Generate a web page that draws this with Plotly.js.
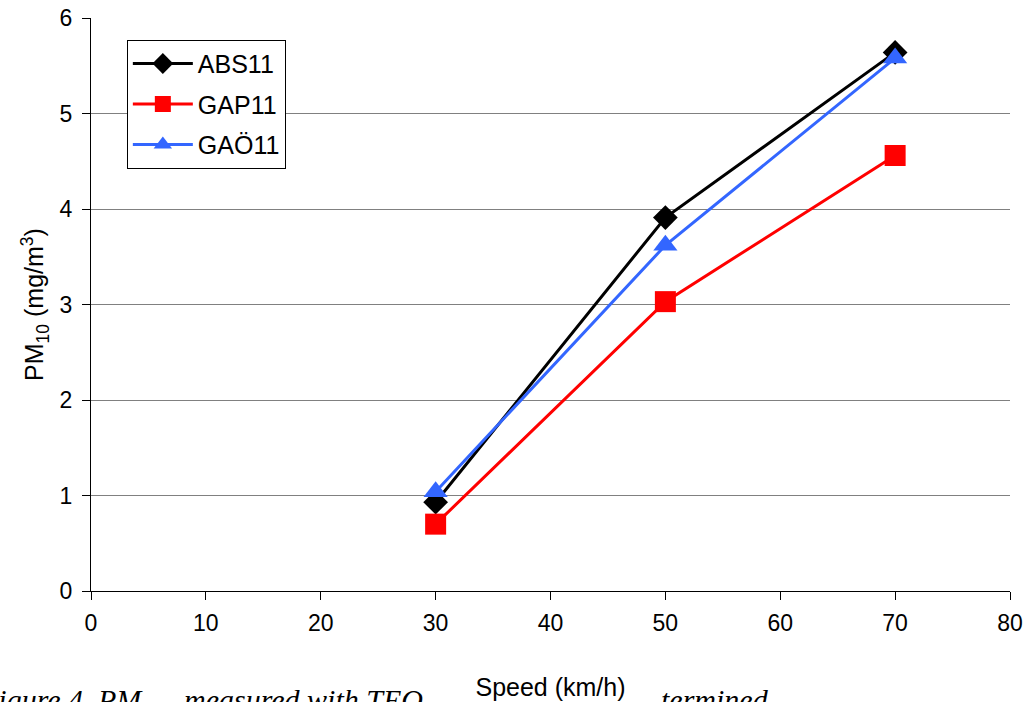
<!DOCTYPE html>
<html>
<head>
<meta charset="utf-8">
<script src="https://cdn.plot.ly/plotly-3.0.1.min.js"></script>
<style>html,body{margin:0;padding:0;background:#fff;}#chart{width:1027px;height:702px;}</style>
</head>
<body>
<div id="chart"></div>
<script>
const speeds = [30, 50, 70];
const abs11 = [0.93, 3.91, 5.64];
const gap11 = [0.70, 3.03, 4.56];
const gao11 = [1.04, 3.62, 5.58];
const seriesNames = ["ABS11", "GAP11", "GAÖ11"];
const xTicks = [0, 10, 20, 30, 40, 50, 60, 70, 80];
const yTicks = [0, 1, 2, 3, 4, 5, 6];

const traces = [
  {x: speeds, y: abs11, name: seriesNames[0], legendgroup: "a", mode: "lines+markers",
   line: {color: "#000000", width: 3}, marker: {symbol: "diamond", size: 19, color: "#000000"}},
  {x: speeds, y: gap11, name: seriesNames[1], legendgroup: "b", mode: "lines+markers",
   line: {color: "#ff0000", width: 3}, marker: {symbol: "square", size: 21, color: "#ff0000"}},
  {x: speeds, y: gao11, name: seriesNames[2], legendgroup: "c", mode: "lines+markers",
   line: {color: "#3366ff", width: 3}, marker: {symbol: "triangle-up", size: 21, color: "#3366ff"}}
];

const SANS = "Liberation Sans, Arial, sans-serif";
const tickFont = {family: SANS, size: 23, color: "#000"};
const titleFont = {family: SANS, size: 25, color: "#000"};
const serif = {family: "Liberation Serif, Times New Roman, serif", size: 30, color: "#000"};

const layout = {
  width: 1027, height: 702,
  margin: {l: 91, r: 17, t: 18, b: 111},
  paper_bgcolor: "#fff", plot_bgcolor: "#fff",
  font: tickFont,
  showlegend: true,
  legend: {x: 0.039, y: 0.962, xanchor: "left", yanchor: "top",
           bgcolor: "#fff", bordercolor: "#000", borderwidth: 1,
           font: {family: SANS, size: 25, color: "#000"},
           traceorder: "grouped", tracegroupgap: 5, itemwidth: 60},
  xaxis: {range: [0, 80], tickvals: xTicks, ticktext: xTicks.map(String),
          showgrid: false, zeroline: false, showline: true, linecolor: "#000", linewidth: 1,
          ticks: "outside", ticklen: 8, tickcolor: "#000", tickfont: tickFont,
          ticklabelstandoff: 3,
          title: {text: "Speed (km/h)", font: titleFont, standoff: 43}},
  yaxis: {range: [0, 6], tickvals: yTicks, ticktext: yTicks.map(String),
          showgrid: true, gridcolor: "#808080", gridwidth: 1, zeroline: false,
          showline: true, linecolor: "#000", linewidth: 1,
          ticks: "outside", ticklen: 8, tickcolor: "#000", tickfont: tickFont,
          ticklabelstandoff: 5,
          title: {text: "PM<sub>10</sub> (mg/m<sup>3</sup>)", font: titleFont, standoff: 8}},
  annotations: [
    {xref: "paper", yref: "paper", x: -0.124, y: -0.157, xanchor: "left", yanchor: "top",
     text: "<i>Figure 4. PM</i>", showarrow: false, font: serif},
    {xref: "paper", yref: "paper", x: 0.099, y: -0.157, xanchor: "left", yanchor: "top",
     text: "<i>measured with TEO</i>", showarrow: false, font: serif},
    {xref: "paper", yref: "paper", x: 0.618, y: -0.157, xanchor: "left", yanchor: "top",
     text: "<i>termined</i>", showarrow: false, font: serif}
  ]
};

Plotly.newPlot("chart", traces, layout, {displayModeBar: false, staticPlot: true});
</script>
</body>
</html>
